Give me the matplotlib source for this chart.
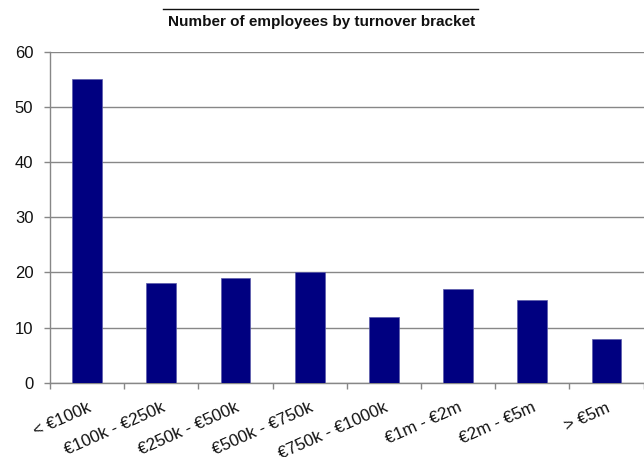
import matplotlib
matplotlib.use("Agg")
import matplotlib.pyplot as plt
from matplotlib.lines import Line2D
import numpy as np

# Turnover brackets and employee counts
categories = ["< €100k", "€100k - €250k", "€250k - €500k", "€500k - €750k",
              "€750k - €1000k", "€1m - €2m", "€2m - €5m", "> €5m"]
employees = [55, 18, 19, 20, 12, 17, 15, 8]
y_ticks = [0, 10, 20, 30, 40, 50, 60]
title = "Number of employees by turnover bracket"

W, H = 644, 457
fig = plt.figure(figsize=(W / 100, H / 100), dpi=100)
fig.patch.set_facecolor("white")

left, right, top, bottom = 50, 643.6, 51.7, 382.7
ax = fig.add_axes([left / W, 1 - bottom / H, (right - left) / W, (bottom - top) / H])

grey = "#878787"
x = np.arange(len(categories))
ax.bar(x, employees, width=0.4, color="#000080", edgecolor="#5a5aaa",
       linewidth=0.5, zorder=3)

ax.set_xlim(-0.5, len(categories) - 0.5)
ax.set_ylim(0, 60)
ax.set_yticks(y_ticks)
ax.set_yticklabels([str(v) for v in y_ticks], fontsize=12,
                   family="Liberation Sans", color="#111111")
ax.yaxis.grid(True, color=grey, linewidth=1.0, zorder=0)
ax.set_axisbelow(True)

# Tick marks sit on the category boundaries, labels at the category centres
ax.set_xticks(np.arange(len(categories) + 1) - 0.5)
ax.set_xticklabels([])
ax.set_xticks(x, minor=True)
ax.set_xticklabels(categories, minor=True, fontsize=12.3, family="Liberation Sans",
                   rotation=24, ha="right", va="top", rotation_mode="anchor",
                   color="#111111")
ax.tick_params(axis="x", which="major", length=4, color=grey, width=1.0)
ax.tick_params(axis="x", which="minor", length=0, pad=12.5)
ax.tick_params(axis="y", length=4, color=grey, width=1.0, pad=8)

for side in ("top", "right"):
    ax.spines[side].set_visible(False)
for side in ("left", "bottom"):
    ax.spines[side].set_color(grey)
    ax.spines[side].set_linewidth(1.0)

fig.text(321.7 / W, 1 - 26 / H, title, ha="center", va="baseline",
         fontsize=11, fontweight="bold",
         family=["Liberation Sans", "DejaVu Sans"], color="#111111")
fig.add_artist(Line2D([163.3 / W, 477.7 / W], [1 - 9 / H, 1 - 9 / H],
                      transform=fig.transFigure, color="#111111", linewidth=1.0))

fig.savefig("out.png", dpi=100, facecolor="white")
